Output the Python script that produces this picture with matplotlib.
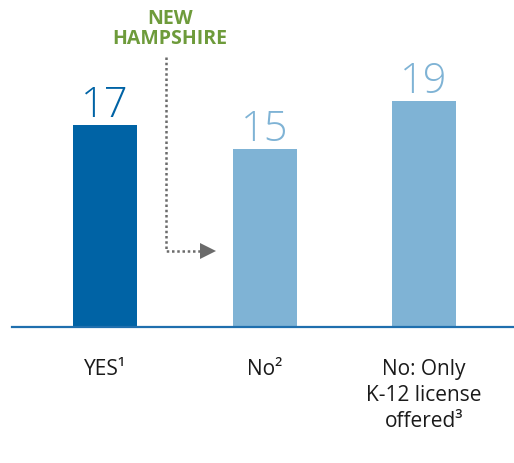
import matplotlib
matplotlib.use("Agg")
import matplotlib.pyplot as plt

categories = ["YES\u00b9", "No\u00b2", "No: Only\nK-12 license\noffered\u00b3"]
values = [17, 15, 19]
bar_colors = ["#0063a5", "#7fb3d5", "#7fb3d5"]
callout_text = "NEW\nHAMPSHIRE"

W, H, DPI = 514, 463, 100
fig = plt.figure(figsize=(W / DPI, H / DPI), dpi=DPI)

# axes placement in pixel terms
ax_left_px, ax_right_px = 12, 514
base_px = 327  # from top
ax = fig.add_axes([ax_left_px / W, (H - base_px) / H, (ax_right_px - ax_left_px) / W, base_px / H])

spacing_px = 159.5
c0_px = 105
xmin = (ax_left_px - c0_px) / spacing_px
xmax = (ax_right_px - c0_px) / spacing_px
scale = 11.88  # px per unit
ax.set_xlim(xmin, xmax)
ax.set_ylim(0, base_px / scale)

fam = ["Open Sans", "DejaVu Sans"]
x = list(range(len(categories)))
ax.bar(x, values, width=64 / spacing_px, color=bar_colors, zorder=2)

for xi, v, c in zip(x, values, bar_colors):
    ax.annotate(str(v), (xi, v), xytext=(0, 5.8), textcoords="offset points",
                ha="center", va="baseline", fontsize=30, color=c,
                family=fam, fontweight="light")

for s in ["top", "right", "left"]:
    ax.spines[s].set_visible(False)
ax.spines["bottom"].set_color("#1f6fae")
ax.spines["bottom"].set_linewidth(1.6)
ax.set_yticks([])
ax.set_xticks(x)
ax.set_xticklabels(categories, fontsize=15, color="#1a1a1a", family=fam,
                   linespacing=1.3)
ax.tick_params(axis="x", length=0, pad=23)

# callout arrow
def px_to_data(px_x, px_y):
    return (px_x - c0_px) / spacing_px, (base_px - px_y) / scale

x1, y1 = px_to_data(166, 57)
x2, y2 = px_to_data(166, 251)
x3, _ = px_to_data(200, 251)
xa, _ = px_to_data(208, 251)
ax.plot([x1, x2, x3], [y1, y2, y2], color="#6b6b6b", lw=1.8,
        ls=(0, (1, 1.1)), clip_on=False, zorder=3)
ax.plot([xa], [y2], marker=">", markersize=11, color="#6b6b6b",
        markeredgewidth=0, clip_on=False, zorder=3)

tx, ty = px_to_data(170, 29)
ax.text(tx, ty, callout_text, ha="center", va="center", fontsize=14,
        fontweight="bold", color="#6e9b3b", family=fam, linespacing=0.95,
        clip_on=False)

fig.savefig("out.png", dpi=DPI)
